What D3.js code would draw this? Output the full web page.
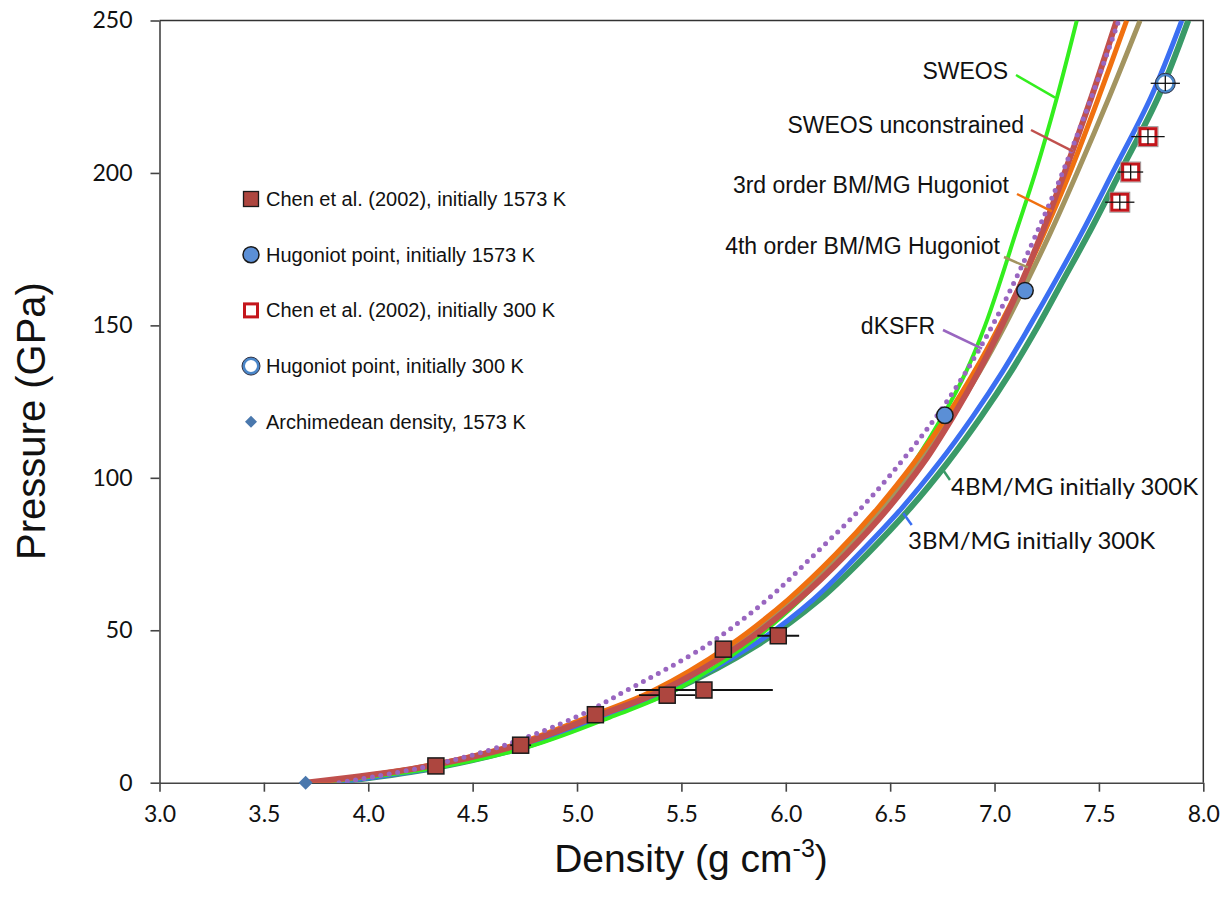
<!DOCTYPE html>
<html>
<head>
<meta charset="utf-8">
<script src="https://cdn.jsdelivr.net/npm/d3@7"></script>
<style>
  body { margin: 0; background: #fff; }
  svg { display: block; }
</style>
</head>
<body>
<div id="chart"></div>
<script>
// pressure levels (GPa) at which the model curves were read
const pLevels = [0, 5, 12, 22, 30, 45, 60, 75, 90, 105, 120, 135, 150, 165, 180, 200, 225, 250];

// density (g/cm3) of each model curve at those pressures
const sweosRho         = [3.77, 4.33, 4.78, 5.18, 5.46, 5.81, 6.07, 6.28, 6.46, 6.615, 6.75, 6.865, 6.955, 7.03, 7.10, 7.195, 7.30, 7.394];
const unconstrainedRho = [3.70, 4.25, 4.70, 5.10, 5.40, 5.78, 6.06, 6.29, 6.49, 6.66, 6.80, 6.925, 7.035, 7.135, 7.225, 7.335, 7.465, 7.585];
const bm3Rho           = [3.73, 4.24, 4.68, 5.07, 5.36, 5.73, 6.01, 6.24, 6.44, 6.615, 6.77, 6.905, 7.025, 7.135, 7.235, 7.36, 7.50, 7.633];
const bm4Rho           = [3.73, 4.25, 4.69, 5.085, 5.38, 5.75, 6.035, 6.265, 6.465, 6.64, 6.795, 6.93, 7.05, 7.16, 7.265, 7.395, 7.55, 7.697];
const dksfrRho         = [3.86, 4.26, 4.64, 5.01, 5.23, 5.62, 5.91, 6.14, 6.36, 6.55, 6.72, 6.865, 6.99, 7.10, 7.20, 7.325, 7.465, 7.595];
const bm4coldRho       = [3.83, 4.33, 4.76, 5.15, 5.45, 5.86, 6.16, 6.39, 6.595, 6.775, 6.935, 7.08, 7.21, 7.33, 7.45, 7.60, 7.785, 7.928];
const bm3coldRho       = [3.82, 4.32, 4.75, 5.14, 5.44, 5.84, 6.13, 6.35, 6.555, 6.735, 6.895, 7.04, 7.17, 7.295, 7.415, 7.565, 7.75, 7.897];

// measurements
const chenHotRho = [4.324, 4.730, 5.088, 5.432, 5.608, 5.701, 5.964];
const chenHotP   = [5.5, 12.3, 22.3, 28.7, 30.4, 43.8, 48.2];
const chenHotErr = [0.03, 0.05, 0.03, 0.135, 0.33, 0.03, 0.10];

const hugHotRho = [6.762, 7.146];
const hugHotP   = [120.5, 161.4];

const chenColdRho  = [7.600, 7.652, 7.735];
const chenColdP    = [190.4, 200.3, 211.9];
const chenColdErrX = [0.07, 0.06, 0.08];
const chenColdErrY = [2.5, 2.5, 2.5];

const hugColdRho  = [7.818];
const hugColdP    = [229.4];
const hugColdErrX = [0.07];
const hugColdErrY = [2.5];

const archRho = [3.70];
const archP   = [0];

const xTicks = [3.0, 3.5, 4.0, 4.5, 5.0, 5.5, 6.0, 6.5, 7.0, 7.5, 8.0];
const yTicks = [0, 50, 100, 150, 200, 250];

const W = 1229, H = 910;
const ARIAL = "'Liberation Sans', Arial, sans-serif";
const CALIBRI = "Lato, 'Open Sans', sans-serif";

const svg = d3.select('#chart').append('svg')
  .attr('width', W)
  .attr('height', H);

const x = d3.scaleLinear().domain([3, 8]).range([159.5, 1203.3]);
const y = d3.scaleLinear().domain([0, 250]).range([782.7, 20.5]);

svg.append('defs').append('clipPath').attr('id', 'plot-clip')
  .append('rect')
  .attr('x', x(3)).attr('y', y(250))
  .attr('width', x(8) - x(3)).attr('height', y(0) - y(250));

// frame (top + right)
svg.append('path')
  .attr('d', `M${x(3)},${y(250)}H${x(8)}V${y(0)}`)
  .attr('fill', 'none')
  .attr('stroke', '#333')
  .attr('stroke-width', 1.5);

// axes
const xAxis = svg.append('g')
  .attr('transform', `translate(0,${y(0)})`)
  .call(d3.axisBottom(x).tickValues(xTicks).tickFormat(d3.format('.1f')).tickSizeInner(9).tickSizeOuter(0).tickPadding(14));
const yAxis = svg.append('g')
  .attr('transform', `translate(${x(3)},0)`)
  .call(d3.axisLeft(y).tickValues(yTicks).tickSizeInner(9).tickSizeOuter(0).tickPadding(18));

[xAxis, yAxis].forEach(a => {
  a.select('.domain').attr('stroke', '#444').attr('stroke-width', 1.6);
  a.selectAll('.tick line').attr('stroke', '#444').attr('stroke-width', 1.6);
  a.selectAll('.tick text')
    .attr('fill', '#111')
    .style('font-family', CALIBRI)
    .style('font-size', '23px');
});

// axis titles
svg.append('text')
  .attr('transform', 'translate(45,421) rotate(-90)')
  .attr('text-anchor', 'middle')
  .style('font-family', ARIAL)
  .style('font-size', '40px')
  .attr('fill', '#111')
  .text('Pressure (GPa)');

const xTitle = svg.append('text')
  .attr('x', 691)
  .attr('y', 872)
  .attr('text-anchor', 'middle')
  .style('font-family', ARIAL)
  .style('font-size', '39px')
  .attr('fill', '#111');
xTitle.append('tspan').text('Density (g cm');
xTitle.append('tspan').attr('dy', -15).style('font-size', '25px').text('-3');
xTitle.append('tspan').attr('dy', 15).text(')');

// model curves, drawn bottom to top
const curves = [
  { rho: bm4coldRho, color: '#3a9a68', width: 6 },
  { rho: bm3coldRho, color: '#3b6ff2', width: 5 },
  { rho: sweosRho, color: '#33ee1e', width: 4 },
  { rho: bm4Rho, color: '#a39460', width: 5 },
  { rho: bm3Rho, color: '#f07010', width: 5 },
  { rho: unconstrainedRho, color: '#c0504d', width: 6 },
];

const line = d3.line()
  .x(d => x(d[0]))
  .y(d => y(d[1]))
  .curve(d3.curveCatmullRom.alpha(0.5));

const plot = svg.append('g').attr('clip-path', 'url(#plot-clip)');

plot.selectAll('.curve')
  .data(curves)
  .enter()
  .append('path')
  .attr('class', 'curve')
  .attr('d', c => line(c.rho.map((r, i) => [r, pLevels[i]])))
  .attr('fill', 'none')
  .attr('stroke', c => c.color)
  .attr('stroke-width', c => c.width)
  .attr('stroke-linejoin', 'round');

plot.append('path')
  .attr('d', line(dksfrRho.map((r, i) => [r, pLevels[i]])))
  .attr('fill', 'none')
  .attr('stroke', '#9966c0')
  .attr('stroke-width', 5)
  .attr('stroke-linecap', 'round')
  .attr('stroke-dasharray', '0 8.5');

// annotations: leader tip on the curve (data), label + leader start in px
const notes = [
  { text: 'SWEOS', font: ARIAL, size: 23, anchor: 'end', tx: 1008, ty: 71, lx: 1016, ly: 75, tip: [7.290, 224.7], color: '#33ee1e' },
  { text: 'SWEOS unconstrained', font: ARIAL, size: 23, anchor: 'end', tx: 1024, ty: 125, lx: 1031, ly: 130, tip: [7.376, 207.1], color: '#c0504d' },
  { text: '3rd order BM/MG Hugoniot', font: ARIAL, size: 23, anchor: 'end', tx: 1009, ty: 185, lx: 1017, ly: 194, tip: [7.275, 187.4], color: '#f07010' },
  { text: '4th order BM/MG Hugoniot', font: ARIAL, size: 23, anchor: 'end', tx: 1000, ty: 246, lx: 1004, ly: 257, tip: [7.160, 169.0], color: '#a39460' },
  { text: 'dKSFR', font: ARIAL, size: 23, anchor: 'end', tx: 935, ty: 326, lx: 943, ly: 330, tip: [6.940, 142.4], color: '#9966c0' },
  { text: '4BM/MG initially 300K', font: CALIBRI, size: 24, anchor: 'start', tx: 951, ty: 487, lx: 950, ly: 480, tip: [6.747, 103.2], color: '#3a9a68' },
  { text: '3BM/MG initially 300K', font: CALIBRI, size: 24, anchor: 'start', tx: 908, ty: 541, lx: 911.7, ly: 525, tip: [6.563, 88.4], color: '#3b6ff2' },
];

const noteG = svg.append('g');
noteG.selectAll('line')
  .data(notes)
  .enter()
  .append('line')
  .attr('x1', d => d.lx).attr('y1', d => d.ly)
  .attr('x2', d => x(d.tip[0])).attr('y2', d => y(d.tip[1]))
  .attr('stroke', d => d.color)
  .attr('stroke-width', 2.5);
noteG.selectAll('text')
  .data(notes)
  .enter()
  .append('text')
  .attr('x', d => d.tx)
  .attr('y', d => d.ty)
  .attr('dy', '0.35em')
  .attr('text-anchor', d => d.anchor)
  .style('font-family', d => d.font)
  .style('font-size', d => d.size + 'px')
  .attr('fill', '#111')
  .text(d => d.text);

// markers
const SQ = 16;
const marks = svg.append('g');
const diamondPath = r => `M0,${-r}L${r},0L0,${r}L${-r},0Z`;

// Chen 1573 K: error bars under the squares
marks.selectAll('.err-hot')
  .data(chenHotRho)
  .enter()
  .append('line')
  .attr('x1', (d, i) => x(d - chenHotErr[i]))
  .attr('x2', (d, i) => x(d + chenHotErr[i]))
  .attr('y1', (d, i) => y(chenHotP[i]))
  .attr('y2', (d, i) => y(chenHotP[i]))
  .attr('stroke', '#111')
  .attr('stroke-width', 1.8);

marks.selectAll('.sq-hot')
  .data(chenHotRho)
  .enter()
  .append('rect')
  .attr('x', d => x(d) - SQ / 2)
  .attr('y', (d, i) => y(chenHotP[i]) - SQ / 2)
  .attr('width', SQ).attr('height', SQ)
  .attr('fill', '#ad463f')
  .attr('stroke', '#1a1a1a')
  .attr('stroke-width', 1.5);

marks.selectAll('.c-hot')
  .data(hugHotRho)
  .enter()
  .append('circle')
  .attr('cx', d => x(d))
  .attr('cy', (d, i) => y(hugHotP[i]))
  .attr('r', 8.2)
  .attr('fill', '#5b8fd6')
  .attr('stroke', '#1a1a1a')
  .attr('stroke-width', 1.5);

// Chen 300 K: open squares, error bars on top
marks.selectAll('.sq-cold-rim')
  .data(chenColdRho)
  .enter()
  .append('rect')
  .attr('x', d => x(d) - SQ / 2 - 2)
  .attr('y', (d, i) => y(chenColdP[i]) - SQ / 2 - 2)
  .attr('width', SQ + 4).attr('height', SQ + 4)
  .attr('fill', 'none')
  .attr('stroke', '#999')
  .attr('stroke-width', 1);
marks.selectAll('.sq-cold')
  .data(chenColdRho)
  .enter()
  .append('rect')
  .attr('x', d => x(d) - SQ / 2)
  .attr('y', (d, i) => y(chenColdP[i]) - SQ / 2)
  .attr('width', SQ).attr('height', SQ)
  .attr('fill', '#fff')
  .attr('stroke', '#c4161c')
  .attr('stroke-width', 3);

marks.selectAll('.c-cold')
  .data(hugColdRho)
  .enter()
  .append('circle')
  .attr('cx', d => x(d))
  .attr('cy', (d, i) => y(hugColdP[i]))
  .attr('r', 8.5)
  .attr('fill', '#fff')
  .attr('stroke', '#4a86c8')
  .attr('stroke-width', 3);
marks.selectAll('.c-cold-rim')
  .data(hugColdRho)
  .enter()
  .append('circle')
  .attr('cx', d => x(d))
  .attr('cy', (d, i) => y(hugColdP[i]))
  .attr('r', 10)
  .attr('fill', 'none')
  .attr('stroke', '#334')
  .attr('stroke-width', 1);

const coldBars = chenColdRho.map((r, i) => ({ r, p: chenColdP[i], ex: chenColdErrX[i], ey: chenColdErrY[i] }))
  .concat(hugColdRho.map((r, i) => ({ r, p: hugColdP[i], ex: hugColdErrX[i], ey: hugColdErrY[i] })));

marks.selectAll('.err-cold-x')
  .data(coldBars)
  .enter()
  .append('line')
  .attr('x1', d => x(d.r - d.ex)).attr('x2', d => x(d.r + d.ex))
  .attr('y1', d => y(d.p)).attr('y2', d => y(d.p))
  .attr('stroke', '#111').attr('stroke-width', 1.3);
marks.selectAll('.err-cold-y')
  .data(coldBars)
  .enter()
  .append('line')
  .attr('x1', d => x(d.r)).attr('x2', d => x(d.r))
  .attr('y1', d => y(d.p - d.ey)).attr('y2', d => y(d.p + d.ey))
  .attr('stroke', '#111').attr('stroke-width', 1.3);

marks.selectAll('.arch')
  .data(archRho)
  .enter()
  .append('path')
  .attr('d', diamondPath(7))
  .attr('transform', (d, i) => `translate(${x(d)},${y(archP[i])})`)
  .attr('fill', '#4a78ad');

// legend
const legendItems = [
  { label: 'Chen et al. (2002), initially 1573 K', kind: 'sqHot' },
  { label: 'Hugoniot point, initially 1573 K', kind: 'cHot' },
  { label: 'Chen et al. (2002), initially 300 K', kind: 'sqCold' },
  { label: 'Hugoniot point, initially 300 K', kind: 'cCold' },
  { label: 'Archimedean density, 1573 K', kind: 'arch' },
];

const legend = svg.append('g').attr('transform', 'translate(251,199)');
const li = legend.selectAll('.legend-item')
  .data(legendItems)
  .enter()
  .append('g')
  .attr('class', 'legend-item')
  .attr('transform', (d, i) => `translate(0,${i * 55.7})`);

li.each(function (d) {
  const g = d3.select(this);
  if (d.kind === 'sqHot') {
    g.append('rect').attr('x', -7.5).attr('y', -7.5).attr('width', 15).attr('height', 15)
      .attr('fill', '#ad463f').attr('stroke', '#1a1a1a').attr('stroke-width', 1.3);
  } else if (d.kind === 'cHot') {
    g.append('circle').attr('r', 8).attr('fill', '#5b8fd6').attr('stroke', '#1a1a1a').attr('stroke-width', 1.5);
  } else if (d.kind === 'sqCold') {
    g.append('rect').attr('x', -6.5).attr('y', -6.5).attr('width', 13).attr('height', 13)
      .attr('fill', '#fff').attr('stroke', '#c4161c').attr('stroke-width', 3);
  } else if (d.kind === 'cCold') {
    g.append('circle').attr('r', 7.5).attr('fill', '#fff').attr('stroke', '#4a86c8').attr('stroke-width', 3);
    g.append('circle').attr('r', 9).attr('fill', 'none').attr('stroke', '#334').attr('stroke-width', 1);
  } else {
    g.append('path').attr('d', diamondPath(6)).attr('fill', '#4a78ad');
  }
});

li.append('text')
  .attr('x', 15)
  .attr('dy', '0.35em')
  .style('font-family', ARIAL)
  .style('font-size', '20px')
  .attr('fill', '#111')
  .text(d => d.label);
</script>
</body>
</html>
